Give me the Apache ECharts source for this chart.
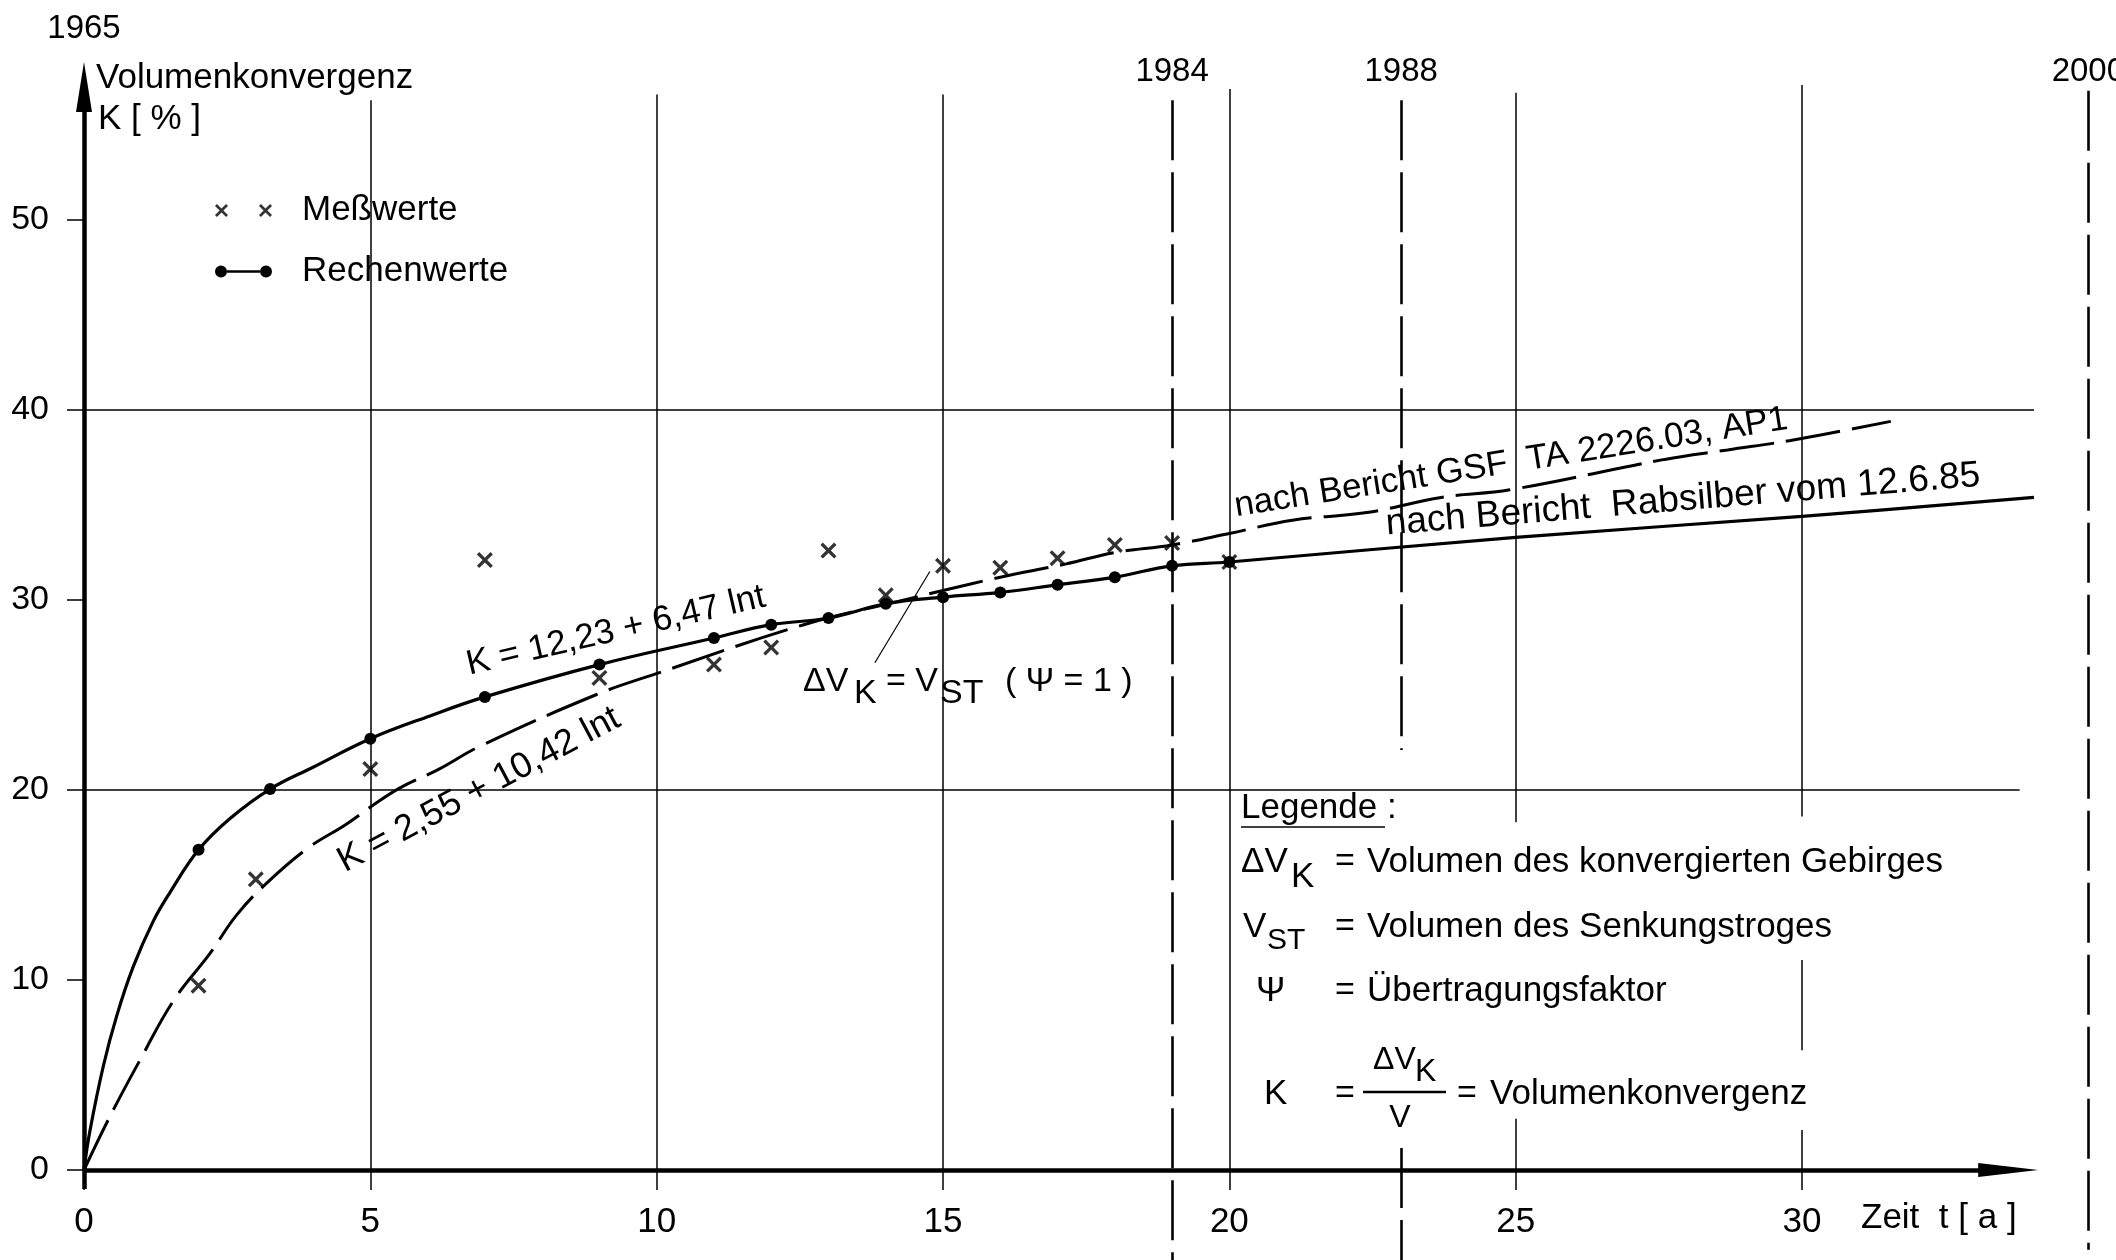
<!DOCTYPE html>
<html><head><meta charset="utf-8">
<script src="https://cdn.jsdelivr.net/npm/echarts@6/dist/echarts.min.js"></script>
<style>html,body{margin:0;padding:0;background:#fff}#c{width:2116px;height:1260px}</style>
</head><body><div id="c"></div>
<script>
// ---------------- data ----------------
const messT = [2, 3, 5, 7, 9, 11, 12, 13, 14, 15, 16, 17, 18, 19, 20];
const messK = [9.7, 15.3, 21.1, 32.1, 25.9, 26.6, 27.5, 32.6, 30.25, 31.8, 31.7, 32.2, 32.9, 33.0, 32.0];

const rechenT = [0, 0.1, 0.34, 0.57, 0.86, 1.21, 1.5, 2, 2.55, 3.25, 4.0, 5, 6.04, 7, 9, 11, 12, 13, 14, 15, 16, 17, 18, 19, 20, 25, 30, 34.05];
const rechenK = [0, 2.0, 5.5, 8.1, 10.7, 13.1, 14.6, 16.85, 18.5, 20.05, 21.2, 22.7, 23.9, 24.9, 26.6, 28.0, 28.7, 29.05, 29.8, 30.15, 30.4, 30.8, 31.2, 31.8, 32.0, 33.3, 34.4, 35.4];
const rechenDot = [0, 0, 0, 0, 0, 0, 0, 1, 0, 1, 0, 1, 0, 1, 1, 1, 1, 1, 1, 1, 1, 1, 1, 1, 1, 0, 0, 0];

const gsfT = [0, 0.45, 0.98, 1.56, 2.2, 2.66, 3.19, 3.89, 4.58, 5.0, 5.51, 6.2, 6.91, 8.93, 9.97, 12.57, 14.18, 15, 16, 17.15, 18, 19, 20, 21.1, 22.4, 23.7, 24.9, 27.6, 28.7, 29.8, 31.55];
const gsfK = [0, 2.8, 5.8, 8.9, 11.4, 13.4, 15.1, 16.9, 18.2, 19.1, 20.1, 21.1, 22.3, 25.0, 26.1, 28.7, 29.9, 30.5, 31.2, 31.9, 32.5, 32.9, 33.5, 34.2, 34.6, 35.4, 35.8, 37.4, 37.9, 38.4, 39.4];

const xTicks = [0, 5, 10, 15, 20, 25, 30];
const yTicks = [0, 10, 20, 30, 40, 50];
const yearT = [19, 23, 35];
const yearLabels = ['1984', '1988', '2000'];
const startYear = '1965';

// ---------------- styling ----------------
const FONT = "'Liberation Sans', Arial, Helvetica, sans-serif";
const BLACK = '#000';
const CROSS = 'path://M0,1.9L1.9,0L6.5,4.6L11.1,0L13,1.9L8.4,6.5L13,11.1L11.1,13L6.5,8.4L1.9,13L0,11.1L4.6,6.5Z';
const CROSS2 = 'path://M0,1.9L1.9,0L6.5,4.6L11.1,0L13,1.9L8.4,6.5L13,11.1L11.1,13L6.5,8.4L1.9,13L0,11.1L4.6,6.5Z' +
  'M44,1.9L45.9,0L50.5,4.6L55.1,0L57,1.9L52.4,6.5L57,11.1L55.1,13L50.5,8.4L45.9,13L44,11.1L48.6,6.5Z';
const DOTLINE = 'path://M0,6.5A6,6,0,1,1,12,6.5A6,6,0,1,1,0,6.5ZM12,5.2L45,5.2L45,7.8L12,7.8ZM45,6.5A6,6,0,1,1,57,6.5A6,6,0,1,1,45,6.5Z';

function seg(t1, k1, t2, k2, ls, endSym) {
  const a = { coord: [t1, k1], lineStyle: ls };
  const b = { coord: [t2, k2] };
  if (endSym) { b.symbol = endSym.symbol; b.symbolSize = endSym.size; }
  return [a, b];
}
const thin = { color: BLACK, width: 1.5, type: 'solid' };
const yearStyle = { color: BLACK, width: 2.6, type: [60, 12] };
const axisStyle = { color: BLACK, width: 4.5, type: 'solid' };

const frameLines = [
  // axes with arrows
  seg(0, -1, 0, 57.0, axisStyle, { symbol: 'triangle', size: [16, 50] }),
  seg(0, 0, 33.6, 0, axisStyle, { symbol: 'triangle', size: [14, 60] }),
  // vertical grid lines
  seg(5, 56.3, 5, 0, thin), seg(10, 56.6, 10, 0, thin), seg(15, 56.6, 15, 0, thin),
  seg(20, 56.9, 20, 0, thin),
  seg(25, 56.7, 25, 18.3, thin), seg(25, 2.7, 25, 0, thin),
  seg(30, 57.1, 30, 18.6, thin), seg(30, 11.05, 30, 6.3, thin), seg(30, 2.1, 30, 0, thin),
  // horizontal grid lines
  seg(0, 40, 34.05, 40, thin), seg(0, 20, 33.8, 20, thin),
  // year lines
  seg(yearT[0], 56.3, yearT[0], -5, yearStyle),
  seg(yearT[1], 56.3, yearT[1], 22.1, yearStyle), seg(yearT[1], 1.16, yearT[1], -5, yearStyle),
  seg(yearT[2], 56.8, yearT[2], -4.2, yearStyle),
  // leader line of the ΔV label
  seg(13.81, 26.7, 14.77, 31.5, { color: BLACK, width: 1.2, type: 'solid' })
];

const chart = echarts.init(document.getElementById('c'), null, { renderer: 'canvas' });

const hiddenAxis = { show: false, axisLine: { show: false }, axisTick: { show: false }, axisLabel: { show: false }, splitLine: { show: false } };

const option = {
  animation: false,
  backgroundColor: '#fff',
  grid: [
    { left: 84, right: -1, top: 58.5, bottom: 90, containLabel: false, outerBoundsMode: 'none' },
    { left: 84, right: -1, top: 58.5, bottom: -5, containLabel: false, outerBoundsMode: 'none' }
  ],
  xAxis: [{
    type: 'value', gridIndex: 0, min: 0, max: 35.5,
    axisLine: { show: false },
    axisTick: { show: true, customValues: xTicks, length: 20, lineStyle: { color: BLACK, width: 1.5 } },
    axisLabel: { customValues: xTicks, margin: 35, fontSize: 35, fontFamily: FONT, color: BLACK },
    splitLine: { show: false }
  }, Object.assign({ type: 'value', gridIndex: 1, min: 0, max: 35.5 }, hiddenAxis)],
  yAxis: [{
    type: 'value', gridIndex: 0, min: 0, max: 58.5,
    axisLine: { show: false },
    axisTick: { show: true, customValues: yTicks, length: 17, lineStyle: { color: BLACK, width: 1.5 } },
    axisLabel: { customValues: yTicks, margin: 35, fontSize: 34, fontFamily: FONT, color: BLACK },
    splitLine: { show: false }
  }, Object.assign({ type: 'value', gridIndex: 1, min: -5, max: 58.5 }, hiddenAxis)],
  legend: {
    orient: 'vertical', left: 200, top: 173,
    padding: [20, 15, 31, 15],
    backgroundColor: '#fff',
    itemWidth: 57, itemHeight: 13, itemGap: 26,
    selectedMode: false,
    textStyle: { fontSize: 35, fontFamily: FONT, color: BLACK, lineHeight: 34, padding: [0, 0, 0, 25] },
    itemStyle: { color: BLACK, borderWidth: 0 },
    data: [{ name: 'Meßwerte', icon: CROSS2 }, { name: 'Rechenwerte', icon: DOTLINE }]
  },
  series: [
    {
      type: 'line', name: '_frame', xAxisIndex: 1, yAxisIndex: 1,
      data: [[0, 0]], symbol: 'none', lineStyle: { width: 0 },
      z: 1, silent: true,
      markLine: {
        silent: true, animation: false, symbol: ['none', 'none'],
        label: { show: false }, lineStyle: thin,
        emphasis: { disabled: true },
        data: frameLines
      }
    },
    {
      type: 'line', name: 'Rechenwerte', z: 3,
      data: rechenT.map((t, i) => ({ value: [t, rechenK[i]], symbol: rechenDot[i] ? 'circle' : 'none' })),
      smooth: 0.4,
      showSymbol: true, showAllSymbol: true, symbol: 'circle', symbolSize: 12,
      itemStyle: { color: BLACK },
      lineStyle: { color: BLACK, width: 3.2 },
      emphasis: { disabled: true }
    },
    {
      type: 'line', name: 'GSF', z: 3,
      data: gsfT.map((t, i) => [t, gsfK[i]]),
      smooth: 0.4, symbol: 'none',
      lineStyle: { color: BLACK, width: 3, type: [55, 12] },
      emphasis: { disabled: true }
    },
    {
      type: 'scatter', name: 'Meßwerte', z: 4,
      data: messT.map((t, i) => [t, messK[i]]),
      symbol: CROSS, symbolSize: 16,
      itemStyle: { color: BLACK },
      emphasis: { disabled: true }
    }
  ]
};
chart.setOption(option);

// ---------------- annotations ----------------
function T(x, y, text, o) {
  o = o || {};
  const st = {
    text: text, fontSize: o.fs || 34, fontFamily: FONT, fill: BLACK,
    align: o.align || 'left', textAlign: o.align || 'left',
    verticalAlign: 'middle', textVerticalAlign: 'middle', lineHeight: o.fs || 34
  };
  if (o.bg) { st.backgroundColor = '#fff'; st.padding = o.pad || [0, 3]; }
  return { type: 'text', x: x, y: y, z: 2, rotation: (o.rot || 0) * Math.PI / 180, style: st, silent: true };
}
function L(x1, y1, x2, y2, w) {
  return { type: 'line', z: 2, shape: { x1, y1, x2, y2 }, style: { stroke: BLACK, lineWidth: w }, silent: true };
}
const originPx = chart.convertToPixel({ gridIndex: 0 }, [0, 0]);
const g = [];
g.push(T(originPx[0], 29, startYear, { align: 'center', fs: 33 }));
yearT.forEach((t, i) => {
  const p = chart.convertToPixel({ gridIndex: 1 }, [t, 0]);
  g.push(T(p[0], 72, yearLabels[i], { align: 'center', fs: 33 }));
});
g.push(T(96, 78, 'Volumenkonvergenz', { fs: 35 }));
g.push(T(98, 119, 'K [ % ]', { fs: 35 }));
g.push(T(1861, 1218, 'Zeit  t [ a ]', { fs: 35 }));
// curve equations
g.push(T(616, 631, 'K = 12,23 + 6,47 lnt', { align: 'center', rot: 13, fs: 35, bg: true }));
g.push(T(479, 790, 'K = 2,55 + 10,42 lnt', { align: 'center', rot: 28, fs: 36, bg: true }));
g.push(T(1511, 463, 'nach Bericht GSF  TA 2226.03, AP1', { align: 'center', rot: 9, fs: 35, bg: true, pad: [0, 3, -4, 3] }));
g.push(T(1683, 500, 'nach Bericht  Rabsilber vom 12.6.85', { align: 'center', rot: 4.7, fs: 37, bg: true, pad: [0, 3, -4, 3] }));
// ΔV_K = V_ST (Ψ = 1)
g.push(T(801, 682, 'ΔV', { bg: true, pad: [6, 2] }));
g.push(T(852, 694, 'K', { bg: true, pad: [6, 2] }));
g.push(T(886, 682, '= V', { bg: true, pad: [6, 0] }));
g.push(T(940, 694, 'ST', { bg: true, pad: [16, 0] }));
g.push(T(1003, 682, '( Ψ = 1 )', { bg: true, pad: [6, 2] }));
// Legende block
g.push(T(1241, 808, 'Legende :', { fs: 35 }));
g.push(L(1241, 827, 1385, 827, 1.5));
g.push(T(1241, 862, 'ΔV', { fs: 35 })); g.push(T(1291, 877, 'K', { fs: 35 }));
g.push(T(1335, 862, '=')); g.push(T(1367, 862, 'Volumen des konvergierten Gebirges', { fs: 35 }));
g.push(T(1243, 927, 'V', { fs: 35 })); g.push(T(1267, 941, 'ST', { fs: 30 }));
g.push(T(1335, 927, '=')); g.push(T(1367, 927, 'Volumen des Senkungstroges', { fs: 35 }));
g.push(T(1256, 991, 'Ψ', { fs: 35 }));
g.push(T(1335, 991, '=')); g.push(T(1367, 991, 'Übertragungsfaktor', { fs: 35 }));
g.push(T(1264, 1094, 'K', { fs: 35 }));
g.push(T(1335, 1094, '='));
g.push(L(1363, 1092, 1446, 1092, 2.5));
g.push(T(1373, 1060, 'ΔV', { fs: 32 })); g.push(T(1415, 1072, 'K', { fs: 32 }));
g.push(T(1400, 1118, 'V', { align: 'center', fs: 32 }));
g.push(T(1457, 1094, '='));
g.push(T(1490, 1094, 'Volumenkonvergenz', { fs: 35 }));

chart.setOption({ graphic: { elements: g } });
</script>
</body></html>
